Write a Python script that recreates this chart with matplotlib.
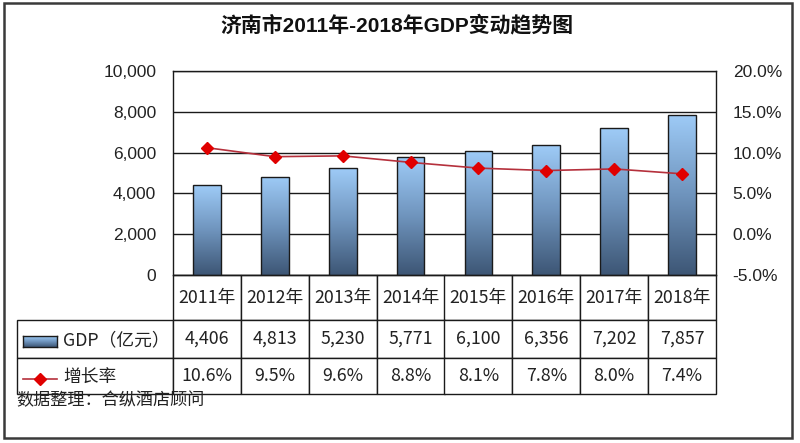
import numpy as np
import matplotlib
matplotlib.use('Agg')
import matplotlib.pyplot as plt
from matplotlib.colors import LinearSegmentedColormap
from matplotlib.patches import Rectangle
from matplotlib.lines import Line2D
from matplotlib.ticker import FuncFormatter

# ===========================
# 데이터
# ===========================
YEARS = ["2011年", "2012年", "2013年", "2014年", "2015年", "2016年", "2017年", "2018年"]
GDP = [4406, 4813, 5230, 5771, 6100, 6356, 7202, 7857]
GROWTH = [10.6, 9.5, 9.6, 8.8, 8.1, 7.8, 8.0, 7.4]

TITLE = "济南市2011年-2018年GDP变动趋势图"
GDP_LABEL = "GDP（亿元）"
GROWTH_LABEL = "增长率"
SOURCE = "数据整理：合纵酒店顾问"

plt.rcParams['font.family'] = ['Noto Sans CJK SC', 'DejaVu Sans']
TICK_FONT = 'Liberation Sans'

W, H = 800, 443
fig = plt.figure(figsize=(W / 100, H / 100), dpi=100)

def px(x, y):
    return x / W, 1 - y / H

# 그라데이션 (위: 밝은 파랑, 아래: 짙은 남색)
cmap = LinearSegmentedColormap.from_list(
    "bar_grad", ["#3d5675", "#6f94bd", "#9ecbf7"])
grad = np.linspace(0, 1, 256).reshape(-1, 1)

# ===========================
# 메인 축
# ===========================
l, t = px(173, 71)
r, b = px(716, 275)
ax = fig.add_axes([l, b, r - l, t - b])
x = np.arange(len(YEARS))
bar_w = 0.41

bars = ax.bar(x, GDP, width=bar_w, color='none', edgecolor='#1a1a1a',
              linewidth=1.0, zorder=3)
for bar in bars:
    x0, y0 = bar.get_x(), bar.get_y()
    im = ax.imshow(grad, extent=[x0, x0 + bar.get_width(), y0, y0 + bar.get_height()],
                   origin='lower', cmap=cmap, aspect='auto', zorder=2)
    im.set_clip_path(bar)

ax.set_xlim(-0.5, len(YEARS) - 0.5)
ax.set_ylim(0, 10000)
ax.set_yticks(np.arange(0, 10001, 2000))
ax.yaxis.set_major_formatter(FuncFormatter(lambda v, p: f"{int(v):,}"))
ax.set_xticks([])
ax.grid(axis='y', color='#1a1a1a', linewidth=1.0, zorder=1)
ax.set_axisbelow(True)
for s in ax.spines.values():
    s.set_color('#1a1a1a')
    s.set_linewidth(1.0)
ax.tick_params(axis='y', length=0, pad=12, labelsize=12.5, labelcolor='#222222')
for lab in ax.get_yticklabels():
    lab.set_fontfamily(TICK_FONT)

# ===========================
# 보조 축 (증장률)
# ===========================
ax2 = ax.twinx()
ax2.plot(x, GROWTH, color='#b5303c', linewidth=1.2, marker='D', markersize=5.8,
         markerfacecolor='#e00000', markeredgecolor='#e00000', zorder=4)
ax2.set_ylim(-5, 20)
ax2.set_yticks(np.arange(-5, 20.1, 5))
ax2.yaxis.set_major_formatter(FuncFormatter(lambda v, p: f"{v:.1f}%"))
ax2.tick_params(axis='y', length=0, pad=12, labelsize=12.5, labelcolor='#222222')
for lab in ax2.get_yticklabels():
    lab.set_fontfamily(TICK_FONT)
for s in ax2.spines.values():
    s.set_visible(False)

# ===========================
# 데이터 테이블
# ===========================
ax_h_px = 275 - 71
ax_w_px = 716 - 173
label_w = (173 - 17) / ax_w_px
col_w = 1.0 / len(YEARS)
tbl_h = (394 - 275) / ax_h_px

cell_text = [[""] + [f"{v:,}" for v in GDP],
             [""] + [f"{v:.1f}%" for v in GROWTH]]
tbl = ax.table(cellText=cell_text, colLabels=[""] + YEARS,
               colWidths=[label_w] + [col_w] * len(YEARS),
               cellLoc='center', colLoc='center',
               bbox=[-label_w, -tbl_h, 1 + label_w, tbl_h])
tbl.auto_set_font_size(False)
tbl.set_fontsize(12.8)
row_h = {0: 45, 1: 38, 2: 36}
for (row, col), cell in tbl.get_celld().items():
    cell.set_height(row_h[row])
    cell.set_edgecolor('#1a1a1a')
    cell.set_linewidth(1.0)
    cell.get_text().set_color('#222222')
tbl[(0, 0)].set_visible(False)

# 범례 아이콘
ix0, iy0 = px(23, 347)
ix1, iy1 = px(57, 336)
icon_ax = fig.add_axes([ix0, iy0, ix1 - ix0, iy1 - iy0])
icon_ax.imshow(grad, cmap=cmap, aspect='auto', origin='lower', extent=[0, 1, 0, 1])
icon_ax.set_xticks([])
icon_ax.set_yticks([])
for s in icon_ax.spines.values():
    s.set_color('#1a1a1a')
    s.set_linewidth(1.0)

lx0, ly = px(23, 379)
lx1, _ = px(57, 379)
lxm, _ = px(40, 379)
fig.add_artist(Line2D([lx0, lx1], [ly, ly], color='#b5303c', linewidth=1.2,
                      transform=fig.transFigure))
fig.add_artist(Line2D([lxm], [ly], marker='D', markersize=5.8, color='#e00000',
                      transform=fig.transFigure))

fig.text(*px(63, 340), GDP_LABEL, fontsize=12.8, color='#222222', va='center', ha='left')
fig.text(*px(63, 378), GROWTH_LABEL, fontsize=12.8, color='#222222', va='center', ha='left')

# 제목 / 출처
fig.text(*px(397, 25), TITLE, fontsize=15, fontweight='bold', ha='center',
         va='center', color='#111111',
         family=['Liberation Sans', 'Noto Sans CJK SC'])
fig.text(*px(16, 400), SOURCE, fontsize=12.3, ha='left', va='center', color='#222222')

# 외곽 테두리
fx, fy = px(4, 438)
fig.add_artist(Rectangle((fx, fy), 788 / W, 435 / H, transform=fig.transFigure,
                         fill=False, edgecolor='#3a3a3a', linewidth=1.8))

plt.savefig("out.png", dpi=100)
plt.close()
